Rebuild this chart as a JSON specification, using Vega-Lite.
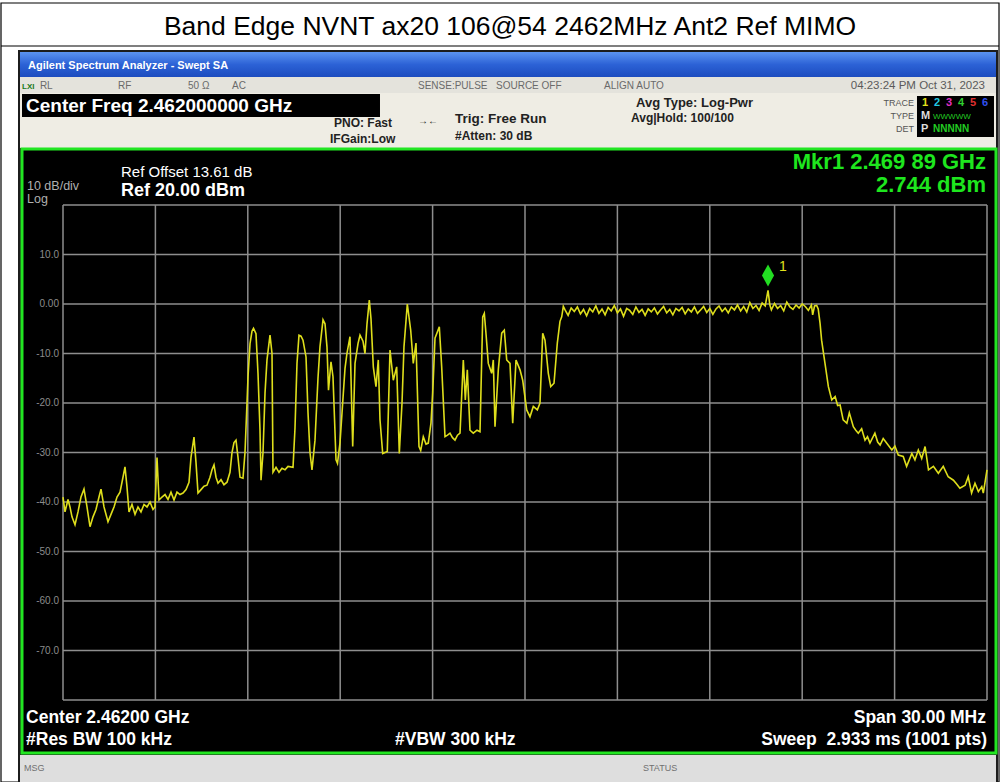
{
  "$schema": "https://vega.github.io/schema/vega-lite/v6.json",
  "width": 924,
  "height": 495,
  "autosize": {"type": "none"},
  "padding": {"left": 63, "top": 205, "right": 17, "bottom": 82},
  "background": "white",
  "config": {"axis": {"disable": true}, "view": {"stroke": null}, "text": {"font": "Liberation Sans"}},
  "datasets": {
    "trace": [
      {"f":2447.000,"p":-39.0},{"f":2447.065,"p":-42.0},{"f":2447.162,"p":-39.5},{"f":2447.227,"p":-41.0},{"f":2447.292,"p":-43.0},{"f":2447.390,"p":-44.6},{"f":2447.487,"p":-42.0},{"f":2447.584,"p":-39.0},{"f":2447.682,"p":-37.4},{"f":2447.779,"p":-41.0},{"f":2447.877,"p":-45.0},{"f":2447.974,"p":-43.0},{"f":2448.071,"p":-41.5},{"f":2448.169,"p":-39.0},{"f":2448.234,"p":-37.4},{"f":2448.331,"p":-41.0},{"f":2448.461,"p":-44.0},{"f":2448.558,"p":-42.5},{"f":2448.656,"p":-41.0},{"f":2448.753,"p":-39.0},{"f":2448.851,"p":-38.0},{"f":2448.948,"p":-35.0},{"f":2449.013,"p":-32.9},{"f":2449.078,"p":-37.0},{"f":2449.143,"p":-42.0},{"f":2449.240,"p":-40.5},{"f":2449.338,"p":-42.5},{"f":2449.435,"p":-41.0},{"f":2449.532,"p":-42.0},{"f":2449.630,"p":-40.5},{"f":2449.727,"p":-41.0},{"f":2449.825,"p":-40.0},{"f":2449.922,"p":-41.5},{"f":2449.987,"p":-41.0},{"f":2450.052,"p":-31.0},{"f":2450.117,"p":-39.6},{"f":2450.214,"p":-39.0},{"f":2450.312,"p":-38.5},{"f":2450.409,"p":-39.5},{"f":2450.506,"p":-38.0},{"f":2450.604,"p":-39.6},{"f":2450.701,"p":-38.0},{"f":2450.799,"p":-38.5},{"f":2450.896,"p":-38.2},{"f":2450.994,"p":-37.5},{"f":2451.091,"p":-36.0},{"f":2451.156,"p":-31.0},{"f":2451.253,"p":-26.9},{"f":2451.318,"p":-32.0},{"f":2451.383,"p":-38.2},{"f":2451.481,"p":-37.5},{"f":2451.578,"p":-36.8},{"f":2451.675,"p":-36.6},{"f":2451.773,"p":-35.0},{"f":2451.838,"p":-33.5},{"f":2451.903,"p":-32.5},{"f":2451.968,"p":-35.0},{"f":2452.033,"p":-36.2},{"f":2452.130,"p":-35.5},{"f":2452.227,"p":-36.5},{"f":2452.325,"p":-36.0},{"f":2452.422,"p":-34.0},{"f":2452.487,"p":-30.0},{"f":2452.552,"p":-28.0},{"f":2452.617,"p":-27.5},{"f":2452.682,"p":-31.0},{"f":2452.747,"p":-35.0},{"f":2452.844,"p":-35.2},{"f":2452.909,"p":-30.0},{"f":2452.974,"p":-20.0},{"f":2453.007,"p":-14.7},{"f":2453.072,"p":-8.0},{"f":2453.136,"p":-5.5},{"f":2453.185,"p":-4.9},{"f":2453.266,"p":-6.0},{"f":2453.331,"p":-14.0},{"f":2453.396,"p":-25.5},{"f":2453.429,"p":-35.6},{"f":2453.494,"p":-30.0},{"f":2453.559,"p":-18.0},{"f":2453.623,"p":-11.3},{"f":2453.721,"p":-6.3},{"f":2453.786,"p":-10.0},{"f":2453.818,"p":-34.0},{"f":2453.916,"p":-33.0},{"f":2454.013,"p":-34.0},{"f":2454.110,"p":-33.2},{"f":2454.208,"p":-33.5},{"f":2454.305,"p":-32.8},{"f":2454.468,"p":-33.0},{"f":2454.533,"p":-25.0},{"f":2454.597,"p":-12.0},{"f":2454.662,"p":-6.3},{"f":2454.727,"p":-6.5},{"f":2454.792,"p":-7.3},{"f":2454.890,"p":-10.7},{"f":2454.955,"p":-22.0},{"f":2455.019,"p":-30.0},{"f":2455.084,"p":-33.5},{"f":2455.182,"p":-27.5},{"f":2455.279,"p":-15.0},{"f":2455.344,"p":-8.6},{"f":2455.442,"p":-3.2},{"f":2455.507,"p":-4.0},{"f":2455.571,"p":-8.7},{"f":2455.620,"p":-17.4},{"f":2455.701,"p":-11.7},{"f":2455.766,"p":-14.7},{"f":2455.864,"p":-31.5},{"f":2455.912,"p":-32.2},{"f":2455.994,"p":-28.0},{"f":2456.059,"p":-22.0},{"f":2456.156,"p":-13.0},{"f":2456.221,"p":-9.9},{"f":2456.318,"p":-6.6},{"f":2456.406,"p":-28.8},{"f":2456.481,"p":-12.0},{"f":2456.578,"p":-8.0},{"f":2456.643,"p":-6.3},{"f":2456.740,"p":-7.5},{"f":2456.805,"p":-10.0},{"f":2456.870,"p":-4.0},{"f":2456.945,"p":0.8},{"f":2457.000,"p":-3.0},{"f":2457.075,"p":-12.7},{"f":2457.162,"p":-16.7},{"f":2457.237,"p":-11.3},{"f":2457.292,"p":-23.4},{"f":2457.380,"p":-30.2},{"f":2457.455,"p":-30.0},{"f":2457.529,"p":-29.8},{"f":2457.617,"p":-9.3},{"f":2457.724,"p":-15.4},{"f":2457.834,"p":-12.7},{"f":2457.919,"p":-30.2},{"f":2458.007,"p":-20.0},{"f":2458.071,"p":-8.6},{"f":2458.179,"p":0.0},{"f":2458.289,"p":-5.3},{"f":2458.373,"p":-12.0},{"f":2458.461,"p":-7.9},{"f":2458.558,"p":-28.8},{"f":2458.614,"p":-29.6},{"f":2458.698,"p":-26.8},{"f":2458.786,"p":-28.3},{"f":2458.860,"p":-28.1},{"f":2458.948,"p":-24.0},{"f":2459.003,"p":-18.0},{"f":2459.078,"p":-6.9},{"f":2459.218,"p":-4.6},{"f":2459.295,"p":-12.7},{"f":2459.403,"p":-26.8},{"f":2459.484,"p":-26.5},{"f":2459.565,"p":-26.1},{"f":2459.646,"p":-27.0},{"f":2459.727,"p":-27.5},{"f":2459.808,"p":-26.5},{"f":2459.890,"p":-26.1},{"f":2459.997,"p":-11.3},{"f":2460.062,"p":-19.4},{"f":2460.127,"p":-13.3},{"f":2460.214,"p":-25.5},{"f":2460.321,"p":-26.1},{"f":2460.442,"p":-25.5},{"f":2460.539,"p":-25.8},{"f":2460.627,"p":-2.6},{"f":2460.679,"p":-1.9},{"f":2460.734,"p":-6.0},{"f":2460.808,"p":-12.0},{"f":2460.919,"p":-14.0},{"f":2460.971,"p":-11.3},{"f":2461.026,"p":-24.8},{"f":2461.133,"p":-13.3},{"f":2461.244,"p":-5.9},{"f":2461.328,"p":-5.3},{"f":2461.406,"p":-11.3},{"f":2461.513,"p":-12.0},{"f":2461.601,"p":-24.1},{"f":2461.708,"p":-11.3},{"f":2461.838,"p":-13.3},{"f":2461.925,"p":-15.4},{"f":2462.055,"p":-21.4},{"f":2462.162,"p":-22.8},{"f":2462.270,"p":-20.7},{"f":2462.400,"p":-21.4},{"f":2462.487,"p":-20.0},{"f":2462.575,"p":-5.9},{"f":2462.649,"p":-7.3},{"f":2462.757,"p":-14.0},{"f":2462.835,"p":-16.7},{"f":2462.942,"p":-16.0},{"f":2463.049,"p":-7.9},{"f":2463.136,"p":-3.5},{"f":2463.192,"p":-2.6},{"f":2463.244,"p":-0.5},
      {"f":2463.3,"p":-1.2},{"f":2463.4,"p":-2.3},{"f":2463.5,"p":-0.8},{"f":2463.6,"p":-1.5},{"f":2463.7,"p":-0.6},{"f":2463.8,"p":-2.0},{"f":2463.9,"p":-1.1},{"f":2464.0,"p":-2.4},{"f":2464.1,"p":-0.9},{"f":2464.2,"p":-1.6},{"f":2464.3,"p":-0.4},{"f":2464.4,"p":-1.9},{"f":2464.5,"p":-1.0},{"f":2464.6,"p":-2.2},{"f":2464.7,"p":-0.7},{"f":2464.8,"p":-1.4},{"f":2464.9,"p":-0.3},{"f":2465.0,"p":-1.8},{"f":2465.1,"p":-1.0},{"f":2465.2,"p":-2.5},{"f":2465.3,"p":-0.9},{"f":2465.4,"p":-1.3},{"f":2465.5,"p":-2.1},{"f":2465.6,"p":-0.6},{"f":2465.7,"p":-1.7},{"f":2465.8,"p":-1.1},{"f":2465.9,"p":-2.3},{"f":2466.0,"p":-1.0},{"f":2466.1,"p":-1.6},{"f":2466.2,"p":-0.8},{"f":2466.3,"p":-2.0},{"f":2466.4,"p":-1.2},{"f":2466.5,"p":-0.5},{"f":2466.6,"p":-1.8},{"f":2466.7,"p":-1.1},{"f":2466.8,"p":-2.2},{"f":2466.9,"p":-0.9},{"f":2467.0,"p":-1.4},{"f":2467.1,"p":-0.7},{"f":2467.2,"p":-2.0},{"f":2467.3,"p":-1.0},{"f":2467.4,"p":-1.6},{"f":2467.5,"p":-0.6},{"f":2467.6,"p":-1.9},{"f":2467.7,"p":-1.2},{"f":2467.8,"p":-0.5},{"f":2467.9,"p":-1.7},{"f":2468.0,"p":-0.9},{"f":2468.1,"p":-2.1},{"f":2468.2,"p":-1.0},{"f":2468.3,"p":-0.4},{"f":2468.4,"p":-1.5},{"f":2468.5,"p":-0.8},{"f":2468.6,"p":-1.8},{"f":2468.7,"p":-0.6},{"f":2468.8,"p":-1.2},{"f":2468.9,"p":-0.2},{"f":2469.0,"p":-1.4},{"f":2469.1,"p":-0.5},{"f":2469.2,"p":-1.6},{"f":2469.3,"p":0.3},{"f":2469.4,"p":-0.9},{"f":2469.5,"p":-0.3},{"f":2469.6,"p":-1.3},{"f":2469.7,"p":0.2},{"f":2469.8,"p":-0.4},{"f":2469.89,"p":2.744},{"f":2469.95,"p":-0.2},{"f":2470.0,"p":-1.2},{"f":2470.1,"p":0.1},{"f":2470.2,"p":-0.9},{"f":2470.3,"p":-0.3},{"f":2470.4,"p":-1.4},{"f":2470.5,"p":0.4},{"f":2470.6,"p":-0.6},{"f":2470.7,"p":-1.1},{"f":2470.8,"p":-0.2},{"f":2470.9,"p":-0.8},{"f":2471.0,"p":0.0},{"f":2471.1,"p":-0.5},{"f":2471.2,"p":-1.3},{"f":2471.3,"p":-0.2},{"f":2471.34,"p":-2.2},{"f":2471.4,"p":-0.4},
      {"f":2471.47,"p":-0.3},{"f":2471.52,"p":-1.0},{"f":2471.58,"p":-3.9},{"f":2471.63,"p":-7.3},{"f":2471.74,"p":-12.0},{"f":2471.85,"p":-16.7},{"f":2471.96,"p":-19.4},{"f":2472.07,"p":-18.7},{"f":2472.15,"p":-20.5},{"f":2472.23,"p":-20.4},{"f":2472.33,"p":-23.4},{"f":2472.45,"p":-24.1},{"f":2472.53,"p":-22.0},{"f":2472.66,"p":-24.8},{"f":2472.74,"p":-25.5},{"f":2472.82,"p":-26.1},{"f":2472.93,"p":-25.2},{"f":2473.04,"p":-27.5},{"f":2473.12,"p":-26.8},{"f":2473.20,"p":-28.1},{"f":2473.36,"p":-26.1},{"f":2473.45,"p":-27.9},{"f":2473.53,"p":-28.5},{"f":2473.63,"p":-27.2},{"f":2473.74,"p":-28.1},{"f":2473.91,"p":-29.5},{"f":2474.01,"p":-28.7},{"f":2474.12,"p":-30.5},{"f":2474.28,"p":-30.8},{"f":2474.39,"p":-32.8},{"f":2474.56,"p":-30.2},{"f":2474.66,"p":-31.5},{"f":2474.77,"p":-29.5},{"f":2474.88,"p":-31.2},{"f":2474.99,"p":-28.8},{"f":2475.10,"p":-33.5},{"f":2475.26,"p":-32.8},{"f":2475.42,"p":-34.2},{"f":2475.58,"p":-32.8},{"f":2475.74,"p":-34.9},{"f":2475.91,"p":-35.6},{"f":2476.02,"p":-36.4},{"f":2476.12,"p":-37.2},{"f":2476.29,"p":-36.6},{"f":2476.39,"p":-34.9},{"f":2476.50,"p":-38.2},{"f":2476.61,"p":-36.2},{"f":2476.72,"p":-37.9},{"f":2476.83,"p":-36.9},{"f":2476.88,"p":-38.2},{"f":2477.00,"p":-33.5}
    ],
    "gx": [{"v":2447},{"v":2450},{"v":2453},{"v":2456},{"v":2459},{"v":2462},{"v":2465},{"v":2468},{"v":2471},{"v":2474},{"v":2477}],
    "gy": [{"v":20},{"v":10},{"v":0},{"v":-10},{"v":-20},{"v":-30},{"v":-40},{"v":-50},{"v":-60},{"v":-70},{"v":-80}],
    "ylab": [{"v":10,"lab":"10.0"},{"v":0,"lab":"0.00"},{"v":-10,"lab":"-10.0"},{"v":-20,"lab":"-20.0"},{"v":-30,"lab":"-30.0"},{"v":-40,"lab":"-40.0"},{"v":-50,"lab":"-50.0"},{"v":-60,"lab":"-60.0"},{"v":-70,"lab":"-70.0"}],
    "one": [{}]
  },
  "layer": [
    {"data": {"name": "one"}, "mark": {"type": "rect", "fill": "white", "stroke": "black", "strokeWidth": 1.2},
     "encoding": {"x": {"datum": 2444.987, "scale": {"domain": [2447, 2477], "nice": false, "zero": false}}, "x2": {"datum": 2477.39}, "y": {"datum": 60.808, "scale": {"domain": [-80, 20], "nice": false, "zero": false}}, "y2": {"datum": -96.566}}},
    {"data": {"name": "one"}, "mark": {"type": "rule", "color": "black", "strokeWidth": 1.2},
     "encoding": {"x": {"datum": 2444.987}, "x2": {"datum": 2477.39}, "y": {"datum": 52.121}}},
    {"data": {"name": "one"}, "mark": {"type": "text", "text": "Band Edge NVNT ax20 106@54 2462MHz Ant2 Ref MIMO", "align": "center", "baseline": "alphabetic", "fontSize": 26.5, "color": "black"},
     "encoding": {"x": {"datum": 2461.513}, "y": {"datum": 54.343}}},
    {"data": {"name": "one"}, "mark": {"type": "rect", "fill": "#1c1c1c"},
     "encoding": {"x": {"datum": 2445.539}, "x2": {"datum": 2477.357}, "y": {"datum": 51.313}, "y2": {"datum": -96.566}}},
    {"data": {"name": "one"}, "mark": {"type": "rect", "fill": {"gradient": "linear", "x1": 0, "y1": 0, "x2": 0, "y2": 1, "stops": [{"offset": 0, "color": "#5b93f0"}, {"offset": 0.5, "color": "#2c62d6"}, {"offset": 1, "color": "#1c4cbf"}]}},
     "encoding": {"x": {"datum": 2445.604}, "x2": {"datum": 2477.292}, "y": {"datum": 50.909}, "y2": {"datum": 45.859}}},
    {"data": {"name": "one"}, "mark": {"type": "rect", "fill": "#e4e3dc"},
     "encoding": {"x": {"datum": 2445.604}, "x2": {"datum": 2477.292}, "y": {"datum": 45.859}, "y2": {"datum": 42.626}}},
    {"data": {"name": "one"}, "mark": {"type": "rect", "fill": "#efede4"},
     "encoding": {"x": {"datum": 2445.604}, "x2": {"datum": 2477.292}, "y": {"datum": 42.626}, "y2": {"datum": 31.515}}},
    {"data": {"name": "one"}, "mark": {"type": "rect", "fill": "black"},
     "encoding": {"x": {"datum": 2445.669}, "x2": {"datum": 2457.292}, "y": {"datum": 42.424}, "y2": {"datum": 37.778}}},
    {"data": {"name": "one"}, "mark": {"type": "rect", "fill": "black"},
     "encoding": {"x": {"datum": 2474.727}, "x2": {"datum": 2477.227}, "y": {"datum": 42.02}, "y2": {"datum": 33.737}}},
    {"data": {"name": "one"}, "mark": {"type": "rect", "fill": "black", "stroke": "#22e622", "strokeWidth": 3},
     "encoding": {"x": {"datum": 2445.669}, "x2": {"datum": 2477.292}, "y": {"datum": 31.313}, "y2": {"datum": -90.707}}},
    {"data": {"name": "one"}, "mark": {"type": "rect", "fill": "#dedede"},
     "encoding": {"x": {"datum": 2445.604}, "x2": {"datum": 2477.292}, "y": {"datum": -91.111}, "y2": {"datum": -96.566}}},
    {"data": {"name": "gx"}, "mark": {"type": "rule", "color": "#8e8e8e", "strokeWidth": 1.5},
     "encoding": {"x": {"field": "v", "type": "quantitative"}, "y": {"datum": -80}, "y2": {"datum": 20}}},
    {"data": {"name": "gy"}, "mark": {"type": "rule", "color": "#8e8e8e", "strokeWidth": 1.5},
     "encoding": {"y": {"field": "v", "type": "quantitative"}, "x": {"datum": 2447}, "x2": {"datum": 2477}}},
    {"data": {"name": "trace"}, "mark": {"type": "line", "color": "#dede1c", "strokeWidth": 1.6, "interpolate": "linear"},
     "encoding": {"x": {"field": "f", "type": "quantitative"}, "y": {"field": "p", "type": "quantitative"}}},
    {"data": {"name": "one"}, "mark": {"type": "point", "shape": "M0,-1L0.55,0L0,1L-0.55,0Z", "filled": true, "color": "#22dd22", "opacity": 1, "size": 484},
     "encoding": {"x": {"datum": 2469.89}, "y": {"datum": 2.744}, "yOffset": {"value": -15}}},
    {"data": {"name": "one"}, "mark": {"type": "text", "text": "1", "align": "left", "baseline": "alphabetic", "fontSize": 14, "color": "#e2e21c"},
     "encoding": {"x": {"datum": 2470.247}, "y": {"datum": 6.667}}},
    {"data": {"name": "ylab"}, "mark": {"type": "text", "align": "right", "baseline": "middle", "fontSize": 10, "color": "#8c8c8c"},
     "encoding": {"x": {"datum": 2446.87}, "y": {"field": "v", "type": "quantitative"}, "text": {"field": "lab"}}},
    {"data": {"name": "one"}, "mark": {"type": "text", "text": "Agilent Spectrum Analyzer - Swept SA", "align": "left", "baseline": "alphabetic", "fontSize": 11, "fontWeight": "bold", "color": "white"},
     "encoding": {"x": {"datum": 2445.864}, "y": {"datum": 47.475}}},
    {"data": {"name": "one"}, "mark": {"type": "text", "text": "LXI", "align": "left", "baseline": "alphabetic", "fontSize": 8, "fontWeight": "bold", "color": "#1a7a1a"},
     "encoding": {"x": {"datum": 2445.669}, "y": {"datum": 43.434}}},
    {"data": {"name": "one"}, "mark": {"type": "text", "text": "RL", "align": "left", "baseline": "alphabetic", "fontSize": 10, "color": "#6a6a6a"},
     "encoding": {"x": {"datum": 2446.25}, "y": {"datum": 43.434}}},
    {"data": {"name": "one"}, "mark": {"type": "text", "text": "RF", "align": "left", "baseline": "alphabetic", "fontSize": 10, "color": "#6a6a6a"},
     "encoding": {"x": {"datum": 2448.786}, "y": {"datum": 43.434}}},
    {"data": {"name": "one"}, "mark": {"type": "text", "text": "50 Ω", "align": "left", "baseline": "alphabetic", "fontSize": 10, "color": "#6a6a6a"},
     "encoding": {"x": {"datum": 2451.058}, "y": {"datum": 43.434}}},
    {"data": {"name": "one"}, "mark": {"type": "text", "text": "AC", "align": "left", "baseline": "alphabetic", "fontSize": 10, "color": "#6a6a6a"},
     "encoding": {"x": {"datum": 2452.487}, "y": {"datum": 43.434}}},
    {"data": {"name": "one"}, "mark": {"type": "text", "text": "SENSE:PULSE", "align": "left", "baseline": "alphabetic", "fontSize": 10, "color": "#6a6a6a"},
     "encoding": {"x": {"datum": 2458.526}, "y": {"datum": 43.434}}},
    {"data": {"name": "one"}, "mark": {"type": "text", "text": "SOURCE OFF", "align": "left", "baseline": "alphabetic", "fontSize": 10, "color": "#6a6a6a"},
     "encoding": {"x": {"datum": 2461.058}, "y": {"datum": 43.434}}},
    {"data": {"name": "one"}, "mark": {"type": "text", "text": "ALIGN AUTO", "align": "left", "baseline": "alphabetic", "fontSize": 10, "color": "#6a6a6a"},
     "encoding": {"x": {"datum": 2464.565}, "y": {"datum": 43.434}}},
    {"data": {"name": "one"}, "mark": {"type": "text", "text": "04:23:24 PM Oct 31, 2023", "align": "right", "baseline": "alphabetic", "fontSize": 11.5, "color": "#5a5a5a"},
     "encoding": {"x": {"datum": 2476.935}, "y": {"datum": 43.434}}},
    {"data": {"name": "one"}, "mark": {"type": "text", "text": "Center Freq 2.462000000 GHz", "align": "left", "baseline": "alphabetic", "fontSize": 19, "fontWeight": "bold", "color": "white"},
     "encoding": {"x": {"datum": 2445.799}, "y": {"datum": 38.788}}},
    {"data": {"name": "one"}, "mark": {"type": "text", "text": "PNO: Fast", "align": "left", "baseline": "alphabetic", "fontSize": 12, "fontWeight": "bold", "color": "#222222"},
     "encoding": {"x": {"datum": 2455.799}, "y": {"datum": 35.758}}},
    {"data": {"name": "one"}, "mark": {"type": "text", "text": "IFGain:Low", "align": "left", "baseline": "alphabetic", "fontSize": 12, "fontWeight": "bold", "color": "#222222"},
     "encoding": {"x": {"datum": 2455.669}, "y": {"datum": 32.525}}},
    {"data": {"name": "one"}, "mark": {"type": "text", "text": "→←", "align": "left", "baseline": "alphabetic", "fontSize": 10, "color": "#222222"},
     "encoding": {"x": {"datum": 2458.526}, "y": {"datum": 36.364}}},
    {"data": {"name": "one"}, "mark": {"type": "text", "text": "Trig: Free Run", "align": "left", "baseline": "alphabetic", "fontSize": 13.5, "fontWeight": "bold", "color": "#222222"},
     "encoding": {"x": {"datum": 2459.727}, "y": {"datum": 36.566}}},
    {"data": {"name": "one"}, "mark": {"type": "text", "text": "#Atten: 30 dB", "align": "left", "baseline": "alphabetic", "fontSize": 12, "fontWeight": "bold", "color": "#222222"},
     "encoding": {"x": {"datum": 2459.727}, "y": {"datum": 33.131}}},
    {"data": {"name": "one"}, "mark": {"type": "text", "text": "Avg Type: Log-Pwr", "align": "left", "baseline": "alphabetic", "fontSize": 13, "fontWeight": "bold", "color": "#222222"},
     "encoding": {"x": {"datum": 2465.604}, "y": {"datum": 39.798}}},
    {"data": {"name": "one"}, "mark": {"type": "text", "text": "Avg|Hold: 100/100", "align": "left", "baseline": "alphabetic", "fontSize": 12, "fontWeight": "bold", "color": "#222222"},
     "encoding": {"x": {"datum": 2465.442}, "y": {"datum": 36.768}}},
    {"data": {"name": "one"}, "mark": {"type": "text", "text": "TRACE", "align": "right", "baseline": "alphabetic", "fontSize": 9, "color": "#555555"},
     "encoding": {"x": {"datum": 2474.63}, "y": {"datum": 40.0}}},
    {"data": {"name": "one"}, "mark": {"type": "text", "text": "TYPE", "align": "right", "baseline": "alphabetic", "fontSize": 9, "color": "#555555"},
     "encoding": {"x": {"datum": 2474.63}, "y": {"datum": 37.374}}},
    {"data": {"name": "one"}, "mark": {"type": "text", "text": "DET", "align": "right", "baseline": "alphabetic", "fontSize": 9, "color": "#555555"},
     "encoding": {"x": {"datum": 2474.63}, "y": {"datum": 34.747}}},
    {"data": {"name": "one"}, "mark": {"type": "text", "text": "1", "align": "left", "baseline": "alphabetic", "fontSize": 11, "fontWeight": "bold", "color": "#e2e21c"},
     "encoding": {"x": {"datum": 2474.89}, "y": {"datum": 40.0}}},
    {"data": {"name": "one"}, "mark": {"type": "text", "text": "2", "align": "left", "baseline": "alphabetic", "fontSize": 11, "fontWeight": "bold", "color": "#22c8e0"},
     "encoding": {"x": {"datum": 2475.279}, "y": {"datum": 40.0}}},
    {"data": {"name": "one"}, "mark": {"type": "text", "text": "3", "align": "left", "baseline": "alphabetic", "fontSize": 11, "fontWeight": "bold", "color": "#e030c0"},
     "encoding": {"x": {"datum": 2475.669}, "y": {"datum": 40.0}}},
    {"data": {"name": "one"}, "mark": {"type": "text", "text": "4", "align": "left", "baseline": "alphabetic", "fontSize": 11, "fontWeight": "bold", "color": "#30d030"},
     "encoding": {"x": {"datum": 2476.058}, "y": {"datum": 40.0}}},
    {"data": {"name": "one"}, "mark": {"type": "text", "text": "5", "align": "left", "baseline": "alphabetic", "fontSize": 11, "fontWeight": "bold", "color": "#e03030"},
     "encoding": {"x": {"datum": 2476.448}, "y": {"datum": 40.0}}},
    {"data": {"name": "one"}, "mark": {"type": "text", "text": "6", "align": "left", "baseline": "alphabetic", "fontSize": 11, "fontWeight": "bold", "color": "#3050f0"},
     "encoding": {"x": {"datum": 2476.838}, "y": {"datum": 40.0}}},
    {"data": {"name": "one"}, "mark": {"type": "text", "text": "M", "align": "left", "baseline": "alphabetic", "fontSize": 11, "fontWeight": "bold", "color": "#dddddd"},
     "encoding": {"x": {"datum": 2474.857}, "y": {"datum": 37.374}}},
    {"data": {"name": "one"}, "mark": {"type": "text", "text": "WWWWW", "align": "left", "baseline": "alphabetic", "fontSize": 8, "color": "#22cc22"},
     "encoding": {"x": {"datum": 2475.247}, "y": {"datum": 37.374}}},
    {"data": {"name": "one"}, "mark": {"type": "text", "text": "P", "align": "left", "baseline": "alphabetic", "fontSize": 11, "fontWeight": "bold", "color": "#dddddd"},
     "encoding": {"x": {"datum": 2474.857}, "y": {"datum": 34.747}}},
    {"data": {"name": "one"}, "mark": {"type": "text", "text": "NNNNN", "align": "left", "baseline": "alphabetic", "fontSize": 10, "fontWeight": "bold", "color": "#22cc22"},
     "encoding": {"x": {"datum": 2475.247}, "y": {"datum": 34.747}}},
    {"data": {"name": "one"}, "mark": {"type": "text", "text": "10 dB/div", "align": "left", "baseline": "alphabetic", "fontSize": 12.5, "color": "#b0b0b0"},
     "encoding": {"x": {"datum": 2445.831}, "y": {"datum": 23.03}}},
    {"data": {"name": "one"}, "mark": {"type": "text", "text": "Log", "align": "left", "baseline": "alphabetic", "fontSize": 12.5, "color": "#b0b0b0"},
     "encoding": {"x": {"datum": 2445.831}, "y": {"datum": 20.404}}},
    {"data": {"name": "one"}, "mark": {"type": "text", "text": "Ref Offset 13.61 dB", "align": "left", "baseline": "alphabetic", "fontSize": 15, "color": "white"},
     "encoding": {"x": {"datum": 2448.883}, "y": {"datum": 25.657}}},
    {"data": {"name": "one"}, "mark": {"type": "text", "text": "Ref 20.00 dBm", "align": "left", "baseline": "alphabetic", "fontSize": 18, "fontWeight": "bold", "color": "white"},
     "encoding": {"x": {"datum": 2448.883}, "y": {"datum": 21.818}}},
    {"data": {"name": "one"}, "mark": {"type": "text", "text": "Mkr1 2.469 89 GHz", "align": "right", "baseline": "alphabetic", "fontSize": 22, "fontWeight": "bold", "color": "#1ee61e"},
     "encoding": {"x": {"datum": 2476.968}, "y": {"datum": 27.273}}},
    {"data": {"name": "one"}, "mark": {"type": "text", "text": "2.744 dBm", "align": "right", "baseline": "alphabetic", "fontSize": 22, "fontWeight": "bold", "color": "#1ee61e"},
     "encoding": {"x": {"datum": 2476.968}, "y": {"datum": 22.626}}},
    {"data": {"name": "one"}, "mark": {"type": "text", "text": "Center 2.46200 GHz", "align": "left", "baseline": "alphabetic", "fontSize": 17.5, "fontWeight": "bold", "color": "white"},
     "encoding": {"x": {"datum": 2445.799}, "y": {"datum": -84.646}}},
    {"data": {"name": "one"}, "mark": {"type": "text", "text": "#Res BW 100 kHz", "align": "left", "baseline": "alphabetic", "fontSize": 17.5, "fontWeight": "bold", "color": "white"},
     "encoding": {"x": {"datum": 2445.799}, "y": {"datum": -89.091}}},
    {"data": {"name": "one"}, "mark": {"type": "text", "text": "#VBW 300 kHz", "align": "left", "baseline": "alphabetic", "fontSize": 17.5, "fontWeight": "bold", "color": "white"},
     "encoding": {"x": {"datum": 2457.779}, "y": {"datum": -89.091}}},
    {"data": {"name": "one"}, "mark": {"type": "text", "text": "Span 30.00 MHz", "align": "right", "baseline": "alphabetic", "fontSize": 17.5, "fontWeight": "bold", "color": "white"},
     "encoding": {"x": {"datum": 2476.968}, "y": {"datum": -84.646}}},
    {"data": {"name": "one"}, "mark": {"type": "text", "text": "Sweep\u00a0 2.933 ms (1001 pts)", "align": "right", "baseline": "alphabetic", "fontSize": 17.5, "fontWeight": "bold", "color": "white"},
     "encoding": {"x": {"datum": 2477.0}, "y": {"datum": -89.091}}},
    {"data": {"name": "one"}, "mark": {"type": "text", "text": "MSG", "align": "left", "baseline": "alphabetic", "fontSize": 9, "color": "#707070"},
     "encoding": {"x": {"datum": 2445.734}, "y": {"datum": -94.343}}},
    {"data": {"name": "one"}, "mark": {"type": "text", "text": "STATUS", "align": "left", "baseline": "alphabetic", "fontSize": 9, "color": "#707070"},
     "encoding": {"x": {"datum": 2465.831}, "y": {"datum": -94.343}}}
  ]
}
